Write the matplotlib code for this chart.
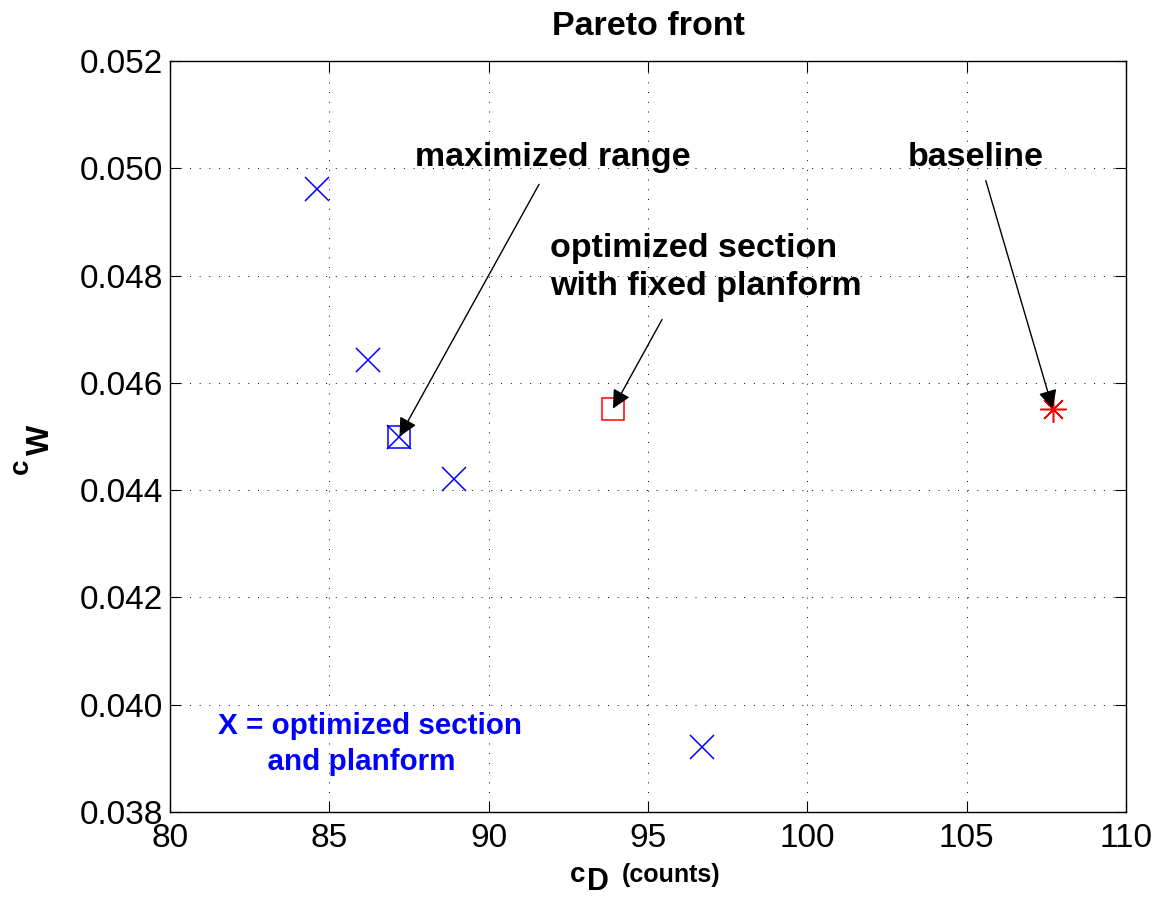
import numpy as np
import matplotlib.pyplot as plt

plt.rcParams['font.family'] = ['Liberation Sans', 'DejaVu Sans']

# optimized section + planform designs
opt_cd = [84.6, 86.2, 87.2, 88.9, 96.7]
opt_cw = [0.04962, 0.04642, 0.04500, 0.04421, 0.03921]

# maximized range design
range_cd = [87.2]
range_cw = [0.0450]

# optimized section with fixed planform
sect_cd = [93.9]
sect_cw = [0.04552]

# baseline
base_cd = [107.7]
base_cw = [0.04552]

W, H = 1157, 897
fig = plt.figure(figsize=(W / 100, H / 100), dpi=100)
ax = fig.add_axes([170 / W, 1 - 812 / H, (1126 - 170) / W, (812 - 61) / H])

blue = (0, 0, 1)
red = (1, 0, 0)

ax.plot(opt_cd, opt_cw, 'x', color=blue, ms=17, mew=1.1, zorder=3)
ax.plot(range_cd, range_cw, 's', color=blue, mfc='none', ms=16, mew=1.1, zorder=3)
ax.plot(sect_cd, sect_cw, 's', color=red, mfc='none', ms=16, mew=1.1, zorder=3)
ax.plot(base_cd, base_cw, marker=(8, 2, 0), ls='none', color=red, ms=19, mew=1.1, zorder=3)

ax.set_xlim(80, 110)
ax.set_ylim(0.038, 0.052)
ax.set_xticks(np.arange(80, 111, 5))
ax.set_yticks(np.arange(0.038, 0.0521, 0.002))
ax.set_yticklabels(['%.3f' % v for v in np.arange(0.038, 0.0521, 0.002)])
ax.tick_params(direction='in', length=8, width=0.8, top=True, right=True,
               labelsize=24)
ax.tick_params(axis='y', pad=5)
ax.tick_params(axis='x', pad=8)
for s in ax.spines.values():
    s.set_linewidth(1.0)
ax.grid(True, color='k', linestyle=(0, (1, 9)), linewidth=0.7)
ax.set_axisbelow(True)

ax.set_title('Pareto front', fontsize=24.5, fontweight='bold', pad=19)

# axis labels: c_D (counts) and c_W
fig.text(570 / W, 1 - 882 / H, 'c', fontsize=20, fontweight='bold', va='baseline')
fig.text(587 / W, 1 - 890 / H, 'D', fontsize=22, fontweight='bold', va='baseline')
fig.text(622 / W, 1 - 882 / H, '(counts)', fontsize=18, fontweight='bold', va='baseline')
fig.text(34 / W, 1 - 474 / H, 'c', fontsize=20, fontweight='bold', rotation=90,
         ha='right', va='bottom')
fig.text(56 / W, 1 - 455 / H, 'W', fontsize=23, fontweight='bold', rotation=90,
         ha='right', va='bottom')

arrow = dict(arrowstyle='-|>', color='k', lw=1.0, mutation_scale=28,
             shrinkA=0, shrinkB=0)

ax.text(87.69, 0.0502, 'maximized range', fontsize=24.5, fontweight='bold', va='center')
ax.annotate('', xy=(87.2, 0.04500), xytext=(91.58, 0.04970), arrowprops=arrow)

ax.text(91.92, 0.04815, 'optimized section\nwith fixed planform', fontsize=24.5,
        fontweight='bold', va='center', ha='left', multialignment='left',
        linespacing=1.32)
ax.annotate('', xy=(93.9, 0.04552), xytext=(95.44, 0.04718), arrowprops=arrow)

ax.text(103.16, 0.0502, 'baseline', fontsize=24.5, fontweight='bold', va='center')
ax.annotate('', xy=(107.7, 0.04552), xytext=(105.6, 0.04977), arrowprops=arrow)

ax.text(81.51, 0.03927, 'X = optimized section\n      and planform', fontsize=21.3,
        fontweight='bold', color=blue, ha='left', va='center',
        multialignment='left', linespacing=1.38)

fig.savefig('out.png', dpi=100)
